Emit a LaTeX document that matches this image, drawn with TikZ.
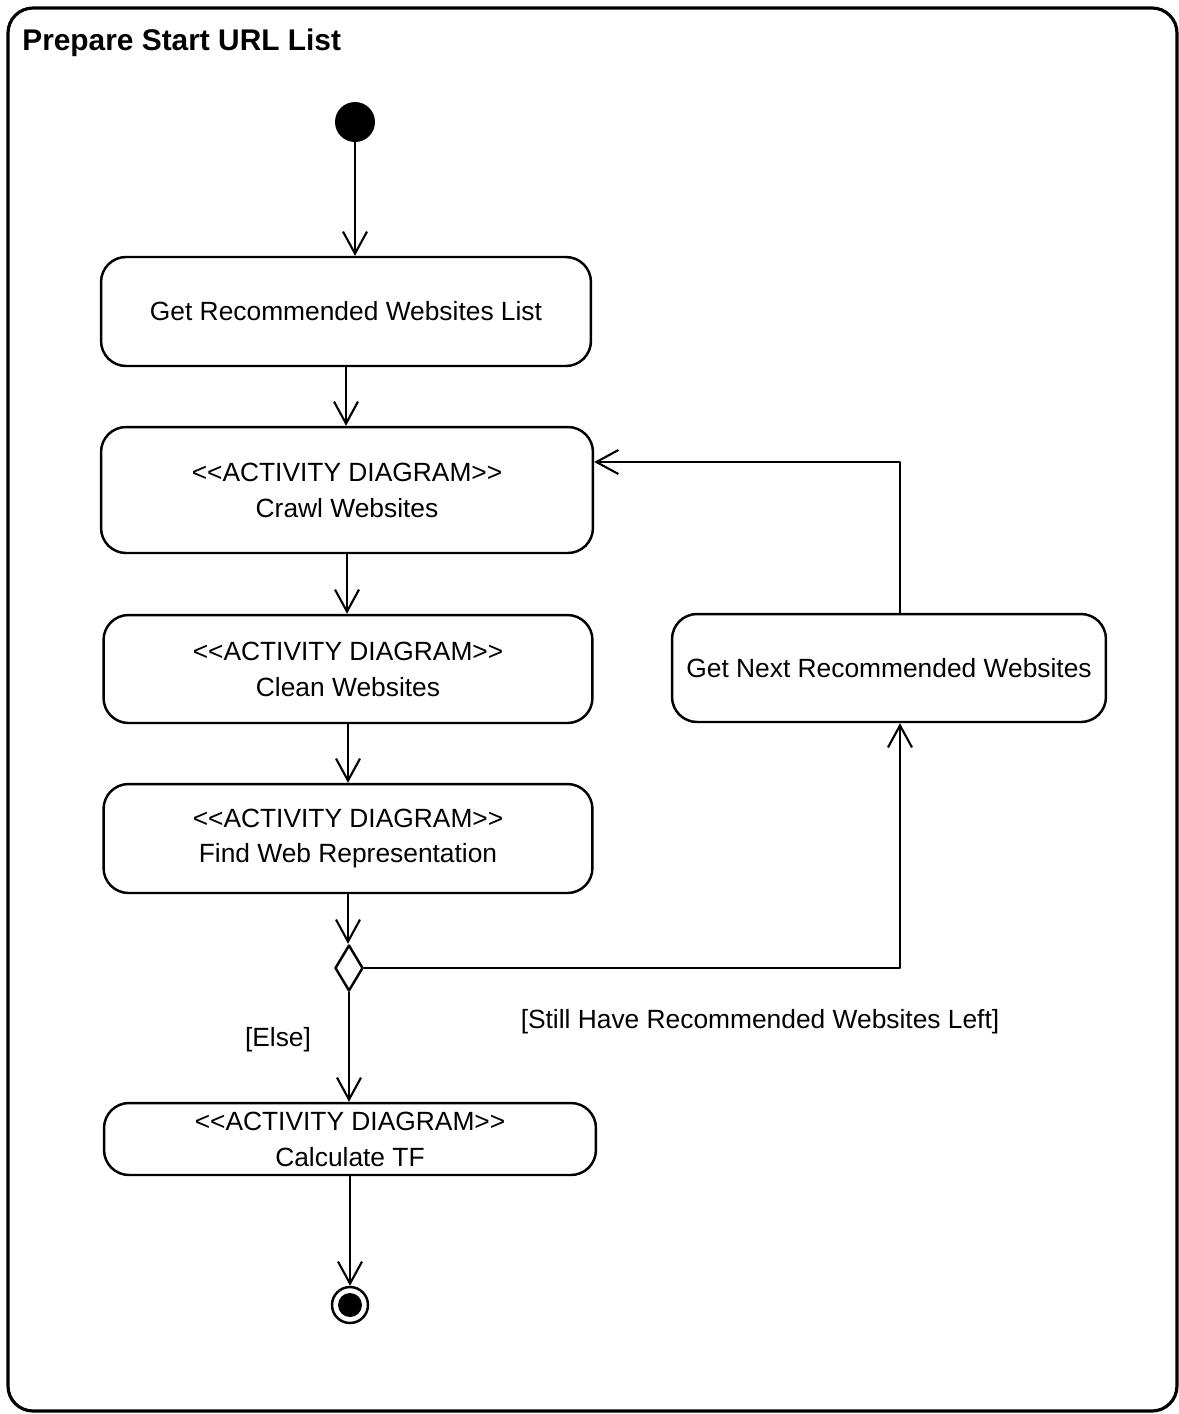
\documentclass[tikz,border=0pt]{standalone}
\usepackage{fontspec}
\setmainfont{Liberation Sans}[Ligatures=TeXOff]
\usetikzlibrary{arrows.meta,shapes.geometric}

\begin{document}
\begin{tikzpicture}[x=.02cm, y=-.02cm, every node/.style={font=\fontsize{15}{20.4}\selectfont}, line cap=round, line join=round]
  \tikzset{act/.style={draw=black, rectangle, rounded corners=.5cm, line width=1.4pt, align=center, inner sep=0pt},
    flow/.style={draw=black, line width=1.2pt, -{Straight Barb[length=4.4mm, width=4.8mm, line width=1.2pt]}},
    guard/.style={inner sep=0pt}}

  % frame
  \useasboundingbox (0,0) rectangle (1179,1414);
  \draw[line width=1.8pt, rounded corners=.5cm] (8,8) rectangle (1177,1411);
  \node[anchor=west, inner sep=0pt, font=\fontsize{17}{20}\selectfont\bfseries] (title) at (22,43) {Prepare Start URL List};

  % start / stop
  \node[circle, fill=black, minimum size=.8cm, inner sep=0pt] (start) at (355,122) {};
  \node[circle, draw=black, line width=1.4pt, minimum size=.72cm, inner sep=0pt] (stop) at (350,1305) {};
  \fill (stop.center) circle (.24cm);

  % activities
  \node[act, minimum width=9.8cm, minimum height=2.18cm] (get) at (346,311.5) {Get Recommended Websites List};
  \node[act, minimum width=9.84cm, minimum height=2.52cm] (crawl) at (347,490) {<<ACTIVITY DIAGRAM>>\\Crawl Websites};
  \node[act, minimum width=9.78cm, minimum height=2.16cm] (clean) at (348,669) {<<ACTIVITY DIAGRAM>>\\Clean Websites};
  \node[act, minimum width=9.78cm, minimum height=2.18cm] (find) at (348,838.5) {<<ACTIVITY DIAGRAM>>\\Find Web Representation};
  \node[act, minimum width=9.84cm, minimum height=1.44cm] (calc) at (350,1139) {<<ACTIVITY DIAGRAM>>\\Calculate TF};
  \node[act, minimum width=8.68cm, minimum height=2.16cm] (next) at (889,668) {Get Next Recommended Websites};

  % decision
  \node[diamond, draw=black, line width=1.4pt, minimum width=.56cm, minimum height=.92cm, inner sep=0pt] (decide) at (349,968) {};
  \coordinate (turn) at (900,462);

  % flows
  \draw[flow] (start) -- (start |- get.north);
  \foreach \a/\b in {get/crawl, crawl/clean, clean/find, find/decide, decide/calc, calc/stop}
    \draw[flow] (\a.south) -- (\b.north -| \a.south);
  \draw[flow] (decide.east) -| (turn |- next.south);
  \draw[flow] (turn |- next.north) |- (crawl.east |- turn);

  % guards
  \node[guard] (else) at (278,1040) {[Else]};
  \node[guard] (left) at (760,1022) {[Still Have Recommended Websites Left]};
\end{tikzpicture}
\end{document}
